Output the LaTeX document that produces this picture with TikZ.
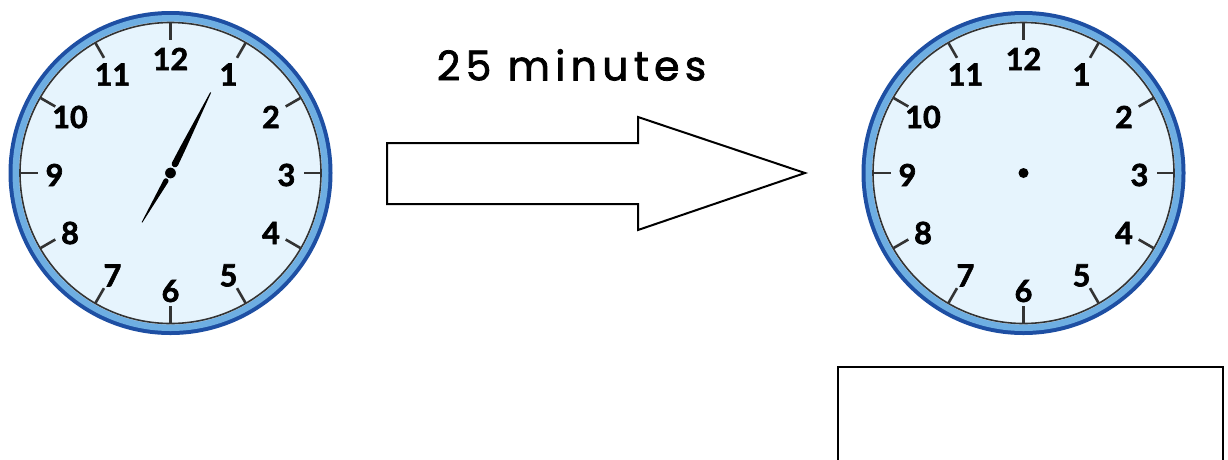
\documentclass[tikz,border=0pt]{standalone}
\usepackage{fontspec}
\setmainfont{Lato}[BoldFeatures={FakeBold=2.2}]
\newfontfamily\popfont{Poppins}[LetterSpace=13, FakeBold=1.8]
\usetikzlibrary{calc}
\definecolor{ringdark}{HTML}{1E4FA3}
\definecolor{ringlight}{HTML}{6EAEE2}
\definecolor{facecol}{HTML}{E6F4FD}
\definecolor{tickcol}{HTML}{333333}
\tikzset{
  ticklines/.style={draw=tickcol, line width=2.6pt},
  clocknum/.style={inner sep=0pt, font=\bfseries\fontsize{30.5}{30.5}\selectfont},
  handfill/.style={fill=black, draw=none},
  bigarrow/.style={draw=black, line width=2pt, fill=white, line join=miter},
  answerbox/.style={draw=black, line width=2.6pt}
}
\newcommand\clockdial[2]{%
  \begin{scope}[shift={(#2,173)}]
    \coordinate (#1c) at (0,0);
    \fill[ringdark] (0,0) circle (162);
    \fill[ringlight] (0,0) circle (158);
    \fill[facecol] (0,0) circle (151.5);
    \draw[tickcol, line width=1.6pt] (0,0) circle (150.5);
    \foreach \h in {1,...,12} {
      \draw[ticklines] ({30*\h-90}:150) -- ({30*\h-90}:133);
      \node[clocknum] (#1n\h) at ($(0,2)+({30*\h-90}:116)$) {\h};
    }
  \end{scope}%
}
\begin{document}
\begin{tikzpicture}[x=1pt,y=-1pt]
\useasboundingbox (0,0) rectangle (1228,459);
\clip (0,0) rectangle (1228,459);
\fill[white] (0,0) rectangle (1228,459);
% left clock
\clockdial{l}{170.5}
\begin{scope}[shift={(170.5,173)}, rotate=63.5]
  \fill[handfill] (10,-3.3) -- (28,-2.9) -- (90,-0.5) -- (90,0.5) -- (28,2.9) -- (10,3.3) arc (90:270:3.3) -- cycle;
\end{scope}
\begin{scope}[shift={(170.5,173)}, rotate=240]
  \fill[handfill] (9,-2.6) -- (57,-0.4) -- (57,0.4) -- (9,2.6) arc (90:270:2.6) -- cycle;
\end{scope}
\node[circle, fill=black, draw=facecol, line width=1pt, minimum size=12pt, inner sep=0pt] (lhub) at (lc) {};
% right clock
\clockdial{r}{1023.5}
\node[circle, fill=black, minimum size=10pt, inner sep=0pt] (rhub) at (rc) {};
% label
\node[inner sep=0pt, font=\popfont\fontsize{41}{41}\selectfont] (lbl) at (571.5,65) {25 minutes};
% arrow
\draw[bigarrow] (387,143) -- (638,143) -- (638,117) -- (805,173) -- (638,230) -- (638,204) -- (387,204) -- cycle;
% answer box
\draw[answerbox] (838,367) rectangle (1223,480);
\end{tikzpicture}
\end{document}
